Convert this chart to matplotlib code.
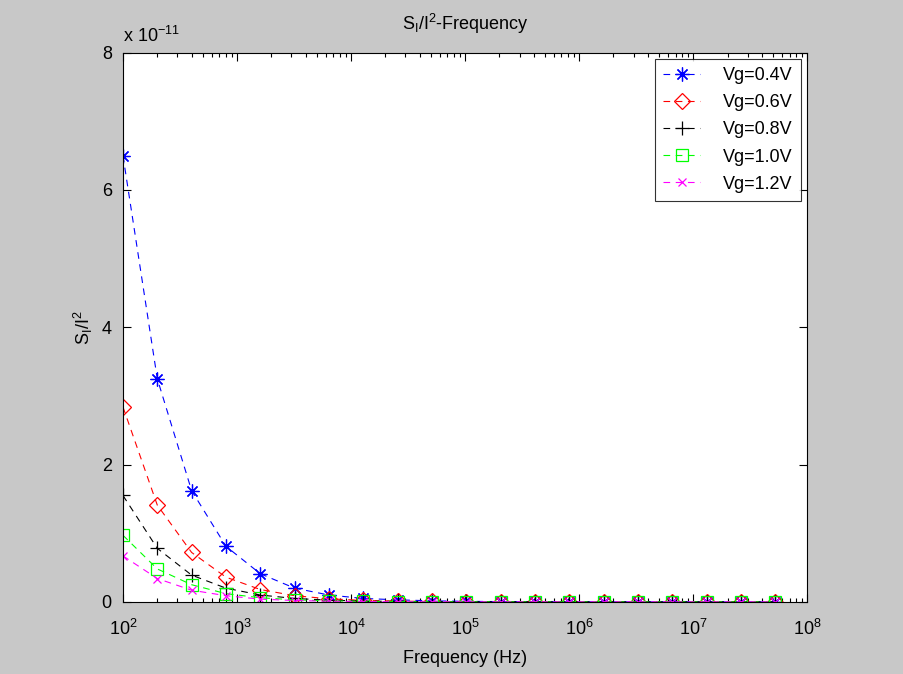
import matplotlib
matplotlib.use("Agg")
import matplotlib.pyplot as plt
import numpy as np

plt.rcParams['font.family'] = ['Liberation Sans', 'DejaVu Sans']
plt.rcParams['mathtext.fontset'] = 'custom'
plt.rcParams['mathtext.rm'] = 'Liberation Sans'

freq = [100, 200, 400, 800, 1600, 3200, 6400, 12800, 25600, 51200, 102400,
        204800, 409600, 819200, 1638400, 3276800, 6553600, 13107200,
        26214400, 52428800]

# values in units of 1e-11
vg04 = [6.50, 3.25, 1.62, 0.81, 0.41, 0.20, 0.10, 0.05, 0.03, 0.015, 0.008,
        0.004, 0.002, 0.001, 0.0005, 0.0003, 0.0001, 0.0001, 0.0, 0.0]
vg06 = [2.84, 1.41, 0.72, 0.36, 0.18, 0.09, 0.045, 0.022, 0.011, 0.006, 0.003,
        0.0015, 0.0007, 0.0004, 0.0002, 0.0001, 0.0, 0.0, 0.0, 0.0]
vg08 = [1.55, 0.78, 0.39, 0.20, 0.10, 0.05, 0.025, 0.012, 0.006, 0.003, 0.0015,
        0.0008, 0.0004, 0.0002, 0.0001, 0.0, 0.0, 0.0, 0.0, 0.0]
vg10 = [0.97, 0.48, 0.25, 0.12, 0.06, 0.03, 0.015, 0.008, 0.004, 0.002, 0.001,
        0.0005, 0.0002, 0.0001, 0.0, 0.0, 0.0, 0.0, 0.0, 0.0]
vg12 = [0.67, 0.34, 0.17, 0.09, 0.04, 0.02, 0.01, 0.005, 0.0025, 0.0012, 0.0006,
        0.0003, 0.0002, 0.0001, 0.0, 0.0, 0.0, 0.0, 0.0, 0.0]

labels = ['Vg=0.4V', 'Vg=0.6V', 'Vg=0.8V', 'Vg=1.0V', 'Vg=1.2V']
series = [vg04, vg06, vg08, vg10, vg12]
colors = ['#0000ff', '#ff0000', '#000000', '#00ff00', '#ff00ff']
markers = [(8, 2, 0), 'D', '+', 's', 'x']
msizes = [10, 8, 10, 8, 6]

xtick_vals = [1e2, 1e3, 1e4, 1e5, 1e6, 1e7, 1e8]
xtick_labels = [r'$\mathregular{10^{2}}$', r'$\mathregular{10^{3}}$',
                r'$\mathregular{10^{4}}$', r'$\mathregular{10^{5}}$',
                r'$\mathregular{10^{6}}$', r'$\mathregular{10^{7}}$',
                r'$\mathregular{10^{8}}$']
ytick_vals = [0, 2, 4, 6, 8]

fig = plt.figure(figsize=(9.04, 6.74), dpi=100, facecolor='#c8c8c8')
ax = fig.add_axes([0.136, 0.107, 0.757, 0.815])
ax.set_facecolor('white')

for y, lab, c, m, ms in zip(series, labels, colors, markers, msizes):
    ax.plot(freq, y, linestyle='--', color=c, linewidth=0.8, marker=m,
            markersize=ms, markerfacecolor='none', markeredgecolor=c,
            markeredgewidth=0.9, label=lab, dashes=(6, 5))

ax.set_xscale('log')
ax.set_xlim(1e2, 1e8)
ax.set_ylim(0, 8)
ax.set_xticks(xtick_vals)
ax.set_xticklabels(xtick_labels)
ax.set_yticks(ytick_vals)
ax.set_yticklabels([str(v) for v in ytick_vals])
ax.xaxis.set_minor_formatter(matplotlib.ticker.NullFormatter())
ax.tick_params(which='both', direction='in', top=True, right=True,
               labelsize=13, colors='black')
ax.tick_params(axis='x', which='major', pad=12)
ax.tick_params(axis='y', which='major', pad=8)
ax.tick_params(which='major', length=6, width=0.8)
ax.tick_params(which='minor', length=3, width=0.8)
ax.xaxis.get_offset_text().set_visible(False)
ax.yaxis.get_offset_text().set_visible(False)
for s in ax.spines.values():
    s.set_linewidth(0.8)

ax.set_title(r'$\mathregular{S_I/I^2}$-Frequency', fontsize=13, pad=16)
ax.set_xlabel('Frequency (Hz)', fontsize=13, labelpad=8)
ax.set_ylabel(r'$\mathregular{S_I/I^2}$', fontsize=13, labelpad=5)
ax.text(0.0, 1.012, r'x $\mathregular{10^{-11}}$', transform=ax.transAxes,
        fontsize=13, ha='left', va='bottom')

leg = ax.legend(loc='upper right', fontsize=13, frameon=True, fancybox=False,
                edgecolor='black', borderaxespad=0.35, handlelength=2.0,
                labelspacing=0.55, borderpad=0.45, handletextpad=1.3,
                handleheight=0.8)
leg.get_frame().set_linewidth(0.8)

fig.savefig('out.png', dpi=100, facecolor=fig.get_facecolor())
